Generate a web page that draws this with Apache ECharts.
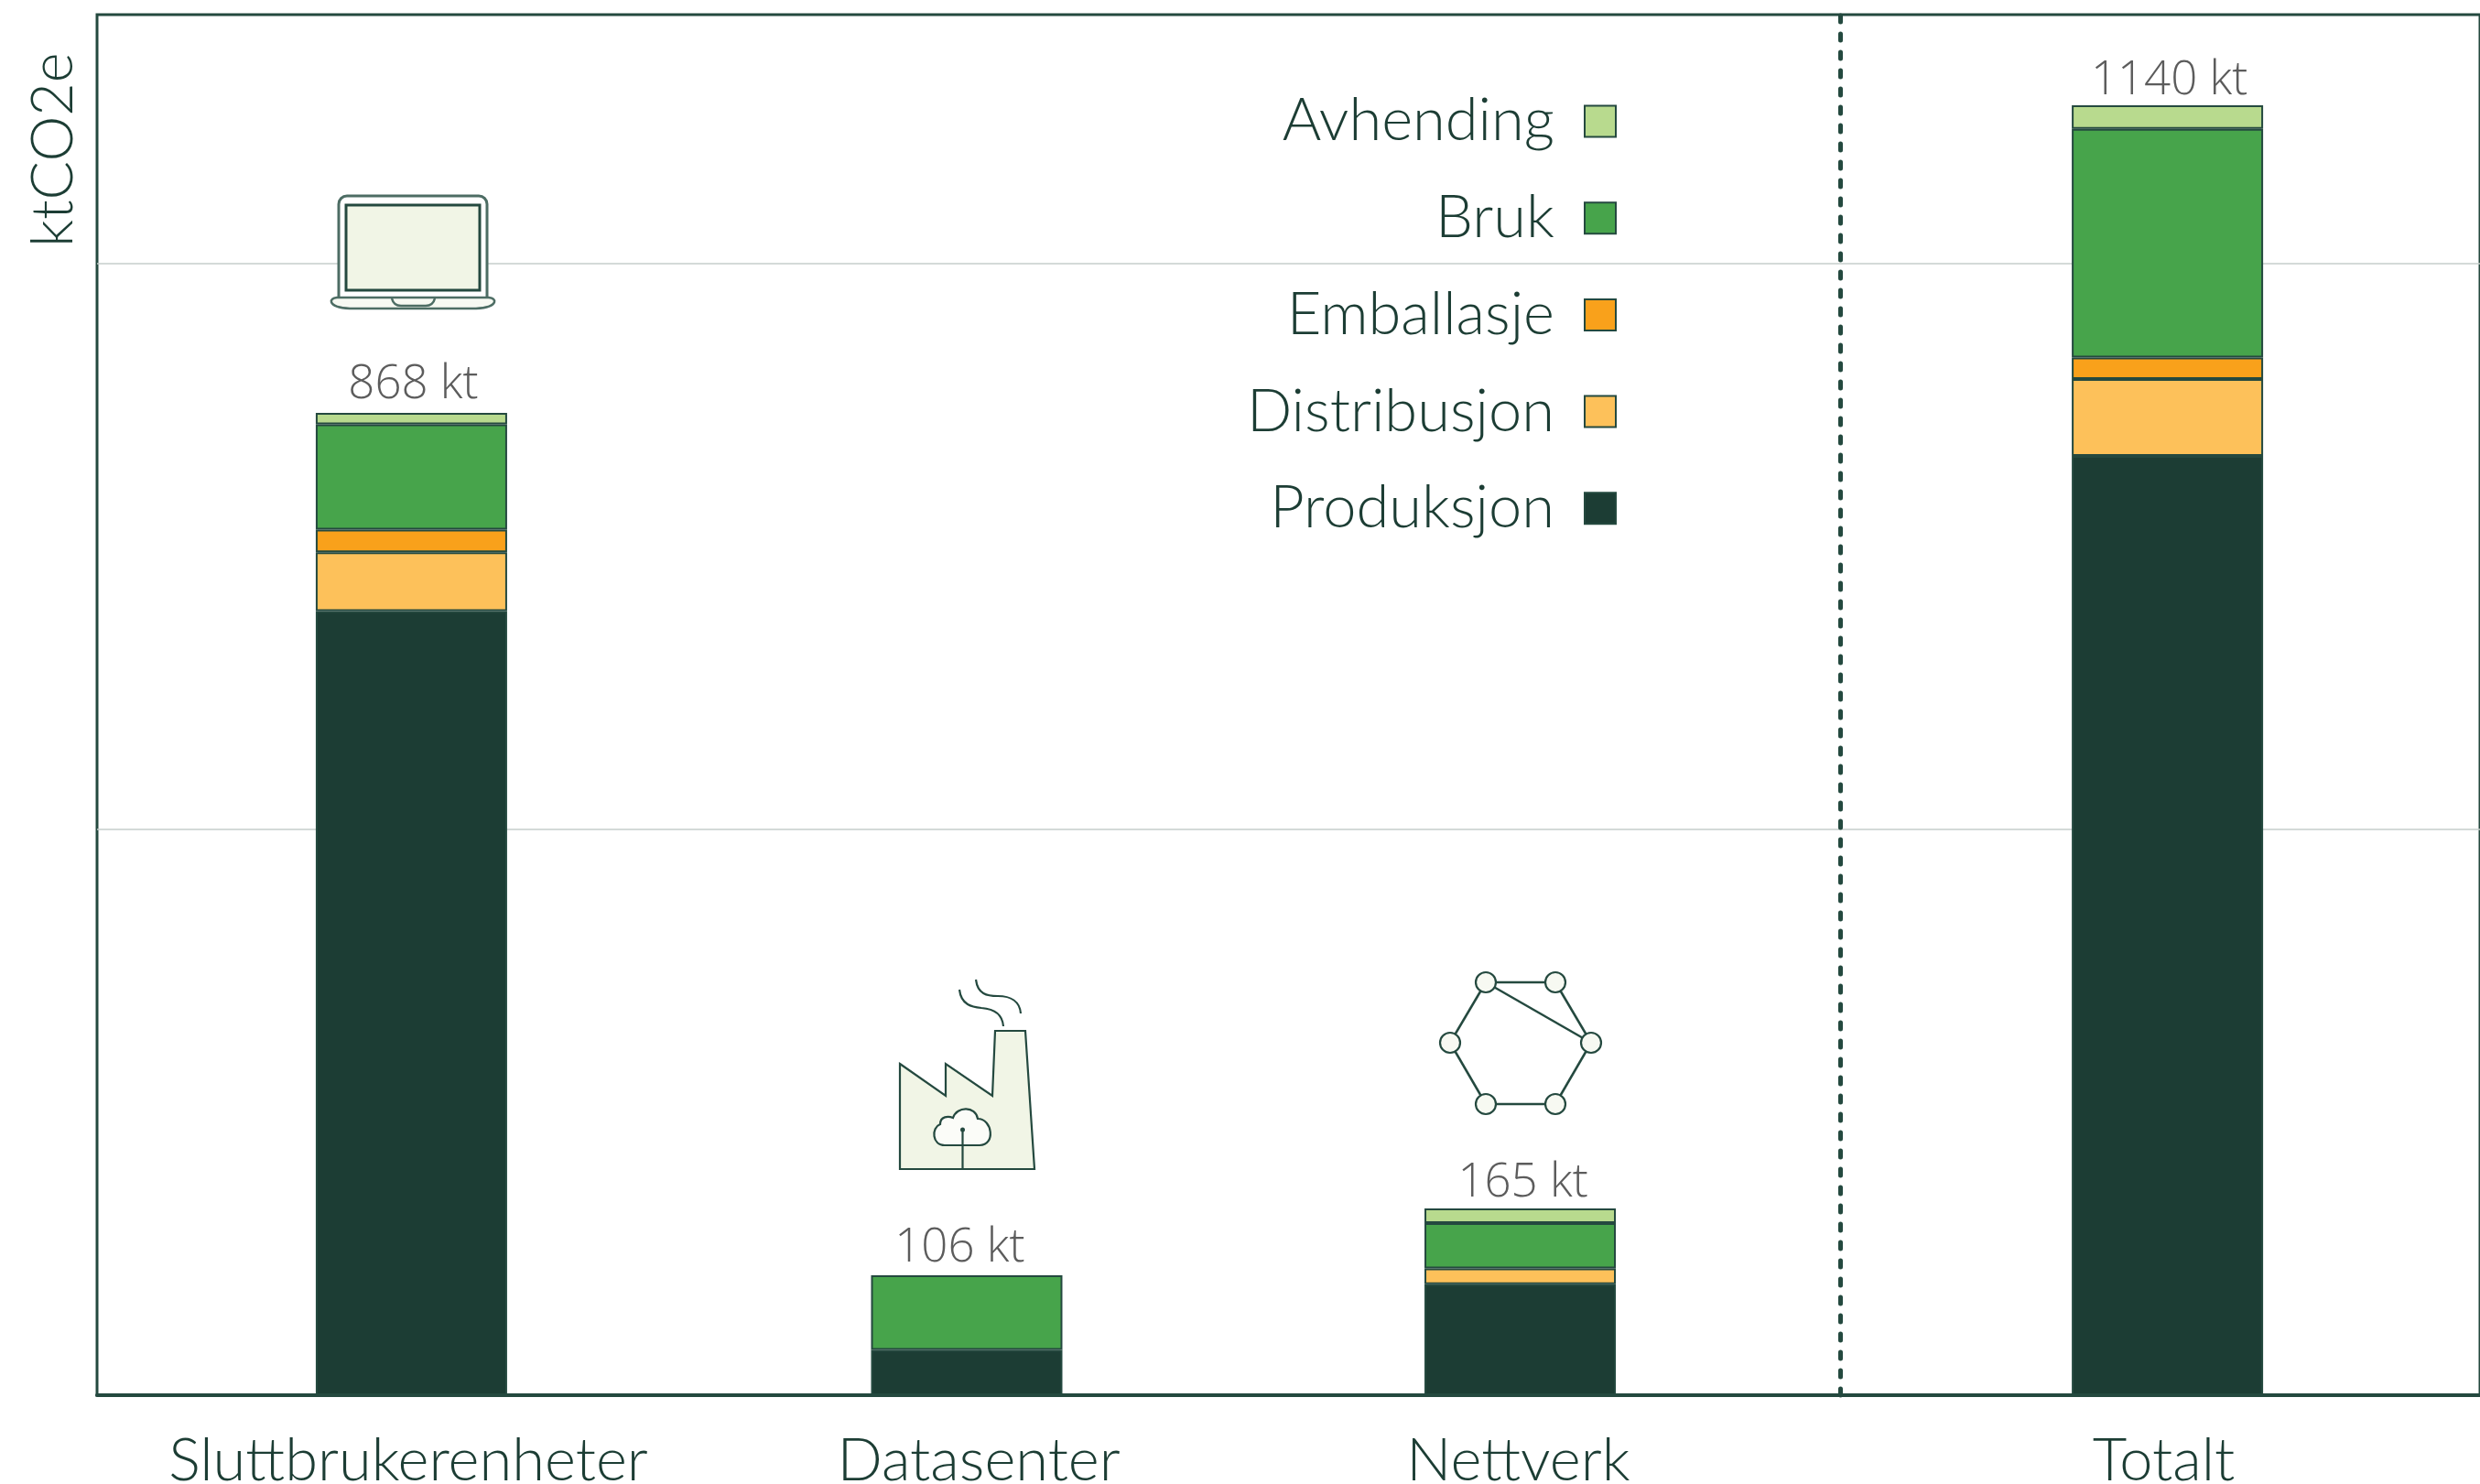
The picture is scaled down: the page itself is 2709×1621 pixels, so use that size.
<!DOCTYPE html>
<html><head><meta charset="utf-8">
<style>html,body{margin:0;padding:0;background:#fff}#c{width:2709px;height:1621px}</style>
<script src="https://cdn.jsdelivr.net/npm/echarts@6/dist/echarts.min.js"></script>
</head><body><div id="c"></div>
<script>
const categories = ['Sluttbrukerenheter','Datasenter','Nettverk','Totalt'];
const barX = [3.4, 9.405, 15.39, 22.39];
const tickLabelX = [3.366, 9.535, 15.37, 22.35];
const totalLabelX = [3.42, 9.33, 15.42, 22.41];
const totals = [868, 106, 165, 1140];
const produksjon = [693, 40, 98, 830];
const distribusjon = [52, null, 14, 68];
const emballasje = [20, null, null, 19];
const bruk = [93, 66, 40, 202];
const avhending = [10, null, 13, 21];
const legendOrder = ['Avhending','Bruk','Emballasje','Distribusjon','Produksjon'];
const dividerX = 18.85;

const INK='#1c3d34', LINE='#24493f', PALE='#f1f5e6';
const sans='Lato, "Noto Sans", sans-serif';
const totalLabelGap = [5, 4, 2, 1];
function barSeries(name,vals,color){
  // value first: ECharts stacks over the first numeric dimension
  return {name,type:'bar',stack:'co2',barWidth:209,data:vals.map((v,i)=>[v,barX[i]]),encode:{x:1,y:0},
    itemStyle:{color,borderColor:LINE,borderWidth:2},emphasis:{disabled:true}};
}
const icon={stroke:LINE,lineWidth:2.5};
let pathId=0;
function svg(d,style,z){
  const name='iconPath'+(pathId++);
  echarts.graphic.registerShape(name,echarts.graphic.extendPath(d,{}));
  return {type:name,z,style};
}
function edge(x1,y1,x2,y2){return {type:'line',z:5,shape:{x1,y1,x2,y2},style:icon};}
function node(cx,cy){return {type:'circle',z:6,shape:{cx,cy,r:11},style:{fill:'#f7f9f2',stroke:LINE,lineWidth:2.2}};}
const graphics=[
  // laptop
  {type:'rect',z:5,shape:{x:370,y:214,width:162,height:112,r:[9,9,0,0]},style:{fill:'#fff',stroke:'#4d6d64',lineWidth:3}},
  {type:'rect',z:6,shape:{x:378,y:224,width:146,height:93},style:{fill:PALE,stroke:LINE,lineWidth:3}},
  svg('M368 325 L534 325 Q541 326 540 330 Q538 336 520 337 L382 337 Q364 336 362 330 Q361 326 368 325 Z',{fill:'#f7f9f2',stroke:'#4d6d64',lineWidth:2.5},6),
  svg('M428 326 Q430 334 438 334 L465 334 Q473 334 475 326',{fill:'none',stroke:'#4d6d64',lineWidth:2.5},7),
  // factory
  svg('M983 1162 L1033 1197 L1033 1162 L1084 1197 L1087 1126 L1120 1126 L1130 1277 L983 1277 Z',{fill:PALE,stroke:LINE,lineWidth:2.2},5),
  svg('M1048 1081 C1050 1098 1062 1100 1072 1101 C1086 1102 1095 1108 1096 1121',{fill:'none',stroke:LINE,lineWidth:2.2},6),
  svg('M1066 1070 C1068 1086 1078 1088 1090 1088 C1104 1088 1114 1094 1115 1107',{fill:'none',stroke:LINE,lineWidth:2.2},6),
  svg('M1032 1251 C1018 1251 1017 1232 1027 1228 C1027 1219 1036 1219 1041 1221 C1045 1208 1066 1208 1068 1222 C1084 1222 1088 1251 1070 1251 Z',{fill:'#fbfcf8',stroke:LINE,lineWidth:2.2},6),
  {type:'line',z:7,shape:{x1:1051.5,y1:1233,x2:1051.5,y2:1277},style:{stroke:LINE,lineWidth:2.2}},
  {type:'circle',z:7,shape:{cx:1051.5,cy:1234,r:2.5},style:{fill:LINE}},
  // network
  edge(1623,1073,1699,1073),edge(1699,1073,1738,1139),edge(1738,1139,1699,1206),
  edge(1699,1206,1623,1206),edge(1623,1206,1584,1139),edge(1584,1139,1623,1073),edge(1623,1073,1738,1139),
  node(1623,1073),node(1699,1073),node(1584,1139),node(1738,1139),node(1623,1206),node(1699,1206)
];
const chart=echarts.init(document.getElementById('c'),null,{renderer:'canvas'});
chart.setOption({
  animation:false,backgroundColor:'#fff',
  grid:{left:106,right:0,top:16,bottom:97,outerBoundsMode:'none',show:true,borderColor:LINE,borderWidth:3,backgroundColor:'transparent'},
  legend:{
    data:legendOrder,orient:'vertical',align:'right',right:938,top:95,
    itemWidth:34,itemHeight:34,itemGap:40.7,icon:'rect',selectedMode:false,
    textStyle:{fontFamily:sans,fontWeight:300,fontSize:65,color:INK,padding:[0,28,0,0]},
    itemStyle:{borderColor:LINE,borderWidth:2}
  },
  xAxis:{type:'value',min:0,max:25.77,splitLine:{show:false},
    axisLine:{show:true,onZero:false,lineStyle:{color:LINE,width:4}},axisTick:{show:false},
    axisLabel:{customValues:tickLabelX,formatter:(v)=>categories[tickLabelX.indexOf(v)]||'',
      fontFamily:sans,fontWeight:300,fontSize:65,color:INK,margin:40,hideOverlap:false,showMinLabel:true,showMaxLabel:true}
  },
  yAxis:{type:'value',min:0,max:1220,interval:500,name:'ktCO2e',nameLocation:'end',nameRotate:90,nameGap:-254,
    nameTextStyle:{fontFamily:sans,fontWeight:300,fontSize:63,color:INK,align:'left',verticalAlign:'bottom',padding:[0,0,16,0]},
    axisLine:{show:false},axisTick:{show:false},axisLabel:{show:false},
    splitLine:{show:true,showMinLine:false,showMaxLine:false,lineStyle:{color:'#c6cecb',width:1.5}}},
  graphic:graphics,
  series:[
    barSeries('Produksjon',produksjon,'#1c3d34'),
    barSeries('Distribusjon',distribusjon,'#fdc15a'),
    barSeries('Emballasje',emballasje,'#f9a11b'),
    barSeries('Bruk',bruk,'#47a44b'),
    barSeries('Avhending',avhending,'#b8da8e'),
    {name:'Sum',type:'scatter',symbolSize:0,z:10,
      data:totals.map((t,i)=>({value:[totalLabelX[i],t],label:{distance:totalLabelGap[i]}})),
      label:{show:true,position:'top',formatter:p=>p.value[1]+' kt',
        fontFamily:'"Open Sans", sans-serif',fontWeight:300,fontSize:51,color:'#333'},
      markLine:{silent:true,symbol:'none',label:{show:false},animation:false,
        lineStyle:{color:LINE,width:5,type:[7,13],cap:'round'},data:[{xAxis:dividerX}]}}
  ]
});
</script></body></html>
